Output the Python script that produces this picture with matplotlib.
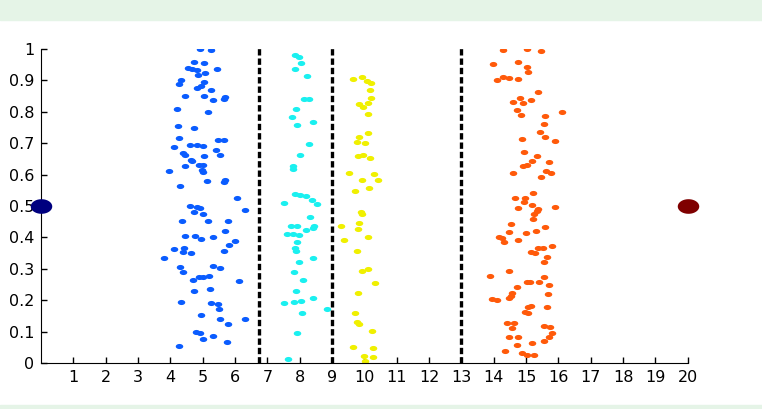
import numpy as np
import matplotlib
matplotlib.use("Agg")
import matplotlib.pyplot as plt
from matplotlib.patches import Rectangle

# cluster points
blue_x = [4.92, 5.27, 4.74, 5.04, 4.54, 4.66, 4.81, 5.08, 4.86, 5.45, 4.32, 4.26, 5.05, 4.96, 4.81,
          5.26, 4.46, 5.04, 5.31, 5.70, 5.66, 4.20, 5.16, 4.23, 4.73, 4.28, 4.10, 5.47, 5.67, 4.61,
          4.81, 5.00, 4.40, 4.44, 5.04, 5.41, 5.54, 4.64, 4.66, 4.46, 4.88, 5.02, 4.97, 5.00, 3.97,
          4.31, 5.14, 5.70, 5.65, 6.07, 4.61, 4.81, 4.92, 4.72, 5.00, 6.31, 4.35, 5.16, 5.77, 4.45,
          4.76, 4.96, 5.31, 5.69, 6.01, 5.80, 5.66, 4.10, 4.41, 4.39, 4.63, 3.79, 4.31, 4.40, 5.33,
          5.55, 4.71, 4.88, 5.02, 5.20, 6.13, 4.73, 5.23, 4.32, 5.26, 5.46, 5.50, 4.96, 5.54, 5.77,
          6.30, 4.78, 4.92, 5.00, 5.31, 5.76, 4.27]
blue_y = [1.000, 0.998, 0.960, 0.955, 0.940, 0.937, 0.932, 0.925, 0.918, 0.935, 0.900, 0.890, 0.894, 0.882, 0.877,
          0.870, 0.850, 0.850, 0.836, 0.848, 0.840, 0.810, 0.800, 0.756, 0.749, 0.715, 0.688, 0.711, 0.709, 0.694,
          0.694, 0.692, 0.668, 0.662, 0.660, 0.679, 0.664, 0.647, 0.643, 0.628, 0.629, 0.629, 0.615, 0.607, 0.610,
          0.565, 0.581, 0.584, 0.575, 0.525, 0.501, 0.498, 0.493, 0.482, 0.473, 0.486, 0.452, 0.452, 0.452, 0.406,
          0.403, 0.396, 0.401, 0.421, 0.389, 0.375, 0.356, 0.363, 0.365, 0.353, 0.351, 0.333, 0.307, 0.290, 0.309,
          0.303, 0.263, 0.274, 0.274, 0.277, 0.262, 0.230, 0.236, 0.194, 0.192, 0.188, 0.172, 0.153, 0.140, 0.124,
          0.141, 0.100, 0.094, 0.077, 0.085, 0.068, 0.055]

cyan_x = [7.85, 7.98, 8.04, 7.86, 8.23, 8.13, 8.28, 7.88, 7.76, 7.92, 8.40, 8.30, 8.00, 7.78, 7.80,
          7.84, 8.01, 8.19, 8.39, 8.53, 7.52, 7.73, 7.93, 7.62, 7.80, 7.99, 7.91, 8.31, 8.20, 8.40,
          8.45, 7.84, 7.88, 7.97, 8.40, 7.82, 8.09, 7.88, 7.52, 7.82, 8.04, 8.42, 8.07, 8.84, 7.91, 7.65]
cyan_y = [0.981, 0.974, 0.955, 0.935, 0.914, 0.842, 0.841, 0.810, 0.782, 0.759, 0.767, 0.696, 0.663, 0.627, 0.618,
          0.539, 0.535, 0.533, 0.520, 0.506, 0.509, 0.436, 0.436, 0.411, 0.411, 0.407, 0.386, 0.465, 0.424, 0.429,
          0.435, 0.365, 0.358, 0.323, 0.333, 0.289, 0.264, 0.230, 0.191, 0.194, 0.199, 0.208, 0.160, 0.172, 0.097, 0.013]

yellow_x = [9.66, 9.92, 10.09, 10.21, 10.18, 10.20, 10.12, 9.85, 9.95, 10.11, 10.11, 9.84, 9.76, 10.02, 9.80,
            9.97, 10.18, 9.54, 10.30, 9.92, 10.41, 10.14, 9.71, 9.89, 9.94, 9.85, 9.27, 9.81, 10.11, 9.37,
            9.76, 10.12, 9.94, 10.34, 9.81, 9.72, 9.78, 9.85, 10.24, 9.64, 10.28, 9.99, 10.26, 10.01]
yellow_y = [0.904, 0.912, 0.899, 0.891, 0.869, 0.843, 0.827, 0.824, 0.816, 0.793, 0.731, 0.721, 0.705, 0.700, 0.660,
            0.663, 0.654, 0.606, 0.602, 0.583, 0.583, 0.557, 0.548, 0.482, 0.475, 0.447, 0.437, 0.427, 0.401, 0.391,
            0.358, 0.299, 0.292, 0.256, 0.223, 0.160, 0.130, 0.123, 0.102, 0.052, 0.047, 0.022, 0.020, 0.007]

orange_x = [14.30, 15.02, 15.46, 13.99, 14.76, 15.02, 15.05, 14.10, 14.28, 14.46, 14.74, 15.38, 14.61, 14.82, 14.92,
            15.15, 14.71, 14.84, 15.59, 16.11, 15.56, 15.43, 15.59, 15.90, 14.87, 14.95, 15.33, 15.18, 15.71, 14.92,
            15.02, 14.59, 15.61, 15.77, 15.46, 15.23, 14.66, 14.97, 15.18, 14.76, 15.38, 15.90, 14.94, 15.33, 15.26,
            15.23, 14.53, 14.48, 14.99, 15.30, 15.59, 14.17, 14.25, 14.33, 14.74, 15.80, 15.38, 15.54, 15.16, 15.28,
            15.64, 15.56, 14.48, 13.89, 15.57, 15.02, 15.13, 15.40, 14.71, 15.71, 14.58, 14.54, 15.67, 13.94, 14.10,
            14.46, 15.16, 15.07, 15.64, 14.97, 15.05, 14.40, 14.64, 14.58, 15.57, 15.74, 15.80, 15.71, 14.46, 14.76,
            15.57, 15.20, 14.71, 14.35, 14.87, 15.02, 15.26]
orange_y = [0.997, 1.000, 0.994, 0.951, 0.958, 0.942, 0.926, 0.901, 0.912, 0.907, 0.904, 0.864, 0.831, 0.843, 0.829,
            0.838, 0.806, 0.790, 0.787, 0.799, 0.761, 0.737, 0.721, 0.707, 0.712, 0.673, 0.659, 0.644, 0.641, 0.627,
            0.631, 0.604, 0.612, 0.606, 0.591, 0.542, 0.527, 0.524, 0.502, 0.494, 0.489, 0.496, 0.514, 0.485, 0.474,
            0.459, 0.442, 0.418, 0.413, 0.420, 0.434, 0.400, 0.397, 0.384, 0.392, 0.373, 0.365, 0.367, 0.354, 0.349,
            0.337, 0.321, 0.294, 0.277, 0.273, 0.259, 0.259, 0.259, 0.243, 0.249, 0.222, 0.214, 0.221, 0.204, 0.201,
            0.206, 0.182, 0.177, 0.177, 0.162, 0.158, 0.128, 0.128, 0.112, 0.119, 0.116, 0.097, 0.084, 0.084, 0.084,
            0.071, 0.065, 0.058, 0.039, 0.031, 0.025, 0.026]

# end points and separators
start_pt = (0, 0.5)
end_pt = (20, 0.5)
boundaries = [6.73, 9.0, 13.0]

x_ticks = list(range(1, 21))
y_ticks = [0, 0.1, 0.2, 0.3, 0.4, 0.5, 0.6, 0.7, 0.8, 0.9, 1]
y_labels = ['0', '0.1', '0.2', '0.3', '0.4', '0.5', '0.6', '0.7', '0.8', '0.9', '1']

# squashed circle marker (the source picture is stretched sideways)
t = np.linspace(0, 2 * np.pi, 40)
ell = np.column_stack([np.cos(t), 0.68 * np.sin(t)])

fig = plt.figure(figsize=(7.62, 4.09), dpi=100)
fig.patch.set_facecolor('white')
band = '#e5f4e7'
fig.add_artist(Rectangle((0, 1 - 20 / 409), 1, 20 / 409, transform=fig.transFigure, color=band, zorder=0))
fig.add_artist(Rectangle((0, 0), 1, 4 / 409, transform=fig.transFigure, color=band, zorder=0))

ax = fig.add_axes([41 / 762, 46 / 409, 646.7 / 762, 314 / 409])

for xs, ys, col in [(blue_x, blue_y, '#0a5cff'), (cyan_x, cyan_y, '#1af0f0'),
                    (yellow_x, yellow_y, '#f0f000'), (orange_x, orange_y, '#ff5a0a')]:
    ax.plot(xs, ys, linestyle='none', marker=ell, markersize=5.4, color=col, mew=0)

for b in boundaries:
    ax.plot([b, b], [0, 1.01], color='black', linewidth=2.4, linestyle=(0, (1.9, 0.9)), clip_on=False)

ax.plot(*start_pt, marker=ell, markersize=15.5, color='#00007f', mew=0, clip_on=False, zorder=5)
ax.plot(*end_pt, marker=ell, markersize=15.5, color='#7f0000', mew=0, clip_on=False, zorder=5)

ax.set_xlim(0, 20)
ax.set_ylim(0, 1)
ax.set_xticks(x_ticks)
ax.set_yticks(y_ticks)
ax.set_yticklabels(y_labels)
ax.spines['top'].set_visible(False)
ax.spines['right'].set_visible(False)
ax.tick_params(direction='in', length=4, width=1, labelsize=11.5, pad=5)
ax.tick_params(axis='x', pad=5)

plt.savefig('out.png', dpi=100)
